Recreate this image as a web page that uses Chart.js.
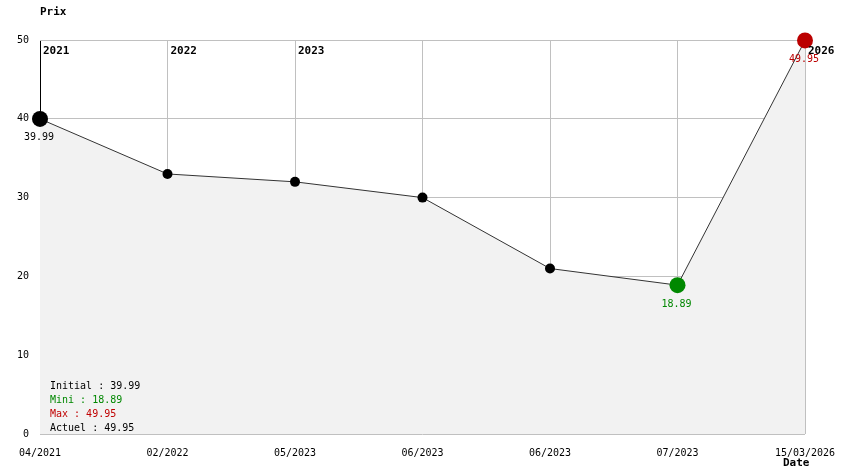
<!DOCTYPE html>
<html>
<head>
<meta charset="utf-8">
<script src="https://cdn.jsdelivr.net/npm/chart.js@4/dist/chart.umd.min.js"></script>
<style>
    html, body { margin: 0; padding: 0; background: #ffffff; }
    canvas { display: block; }
</style>
</head>
<body>
<canvas id="prixChart" width="844" height="474"></canvas>
<script>
"use strict";

var dateLabels = ['04/2021', '02/2022', '05/2023', '06/2023', '06/2023', '07/2023', '15/03/2026'];
var yearLabels = ['2021', '2022', '2023', '', '', '', '2026'];
var prices = [39.99, 33, 32, 30, 21, 18.89, 49.95];
var yTicks = [0, 10, 20, 30, 40, 50];

var statNames = ['Initial', 'Mini', 'Max', 'Actuel'];
var statColors = ['#000000', '#008800', '#c00000', '#000000'];

var minPrice = Math.min.apply(null, prices);
var maxPrice = Math.max.apply(null, prices);
var minIndex = prices.indexOf(minPrice);
var maxIndex = prices.indexOf(maxPrice);
var statValues = [prices[0], minPrice, maxPrice, prices[prices.length - 1]];

var mono = 'DejaVu Sans Mono, Liberation Mono, monospace';

function pointColor(i) {
    if (i === minIndex) return '#008800';
    if (i === maxIndex) return '#bb0000';
    return '#000000';
}
function pointSize(i) {
    if (i === 0 || i === minIndex || i === maxIndex) return 8;
    return 5;
}

// texts drawn around the chart: axis names, years, value labels, stats
var textPlugin = {
    id: 'textPlugin',
    afterDraw: function(chart) {
        var ctx = chart.ctx;
        var meta = chart.getDatasetMeta(0);
        var area = chart.chartArea;
        ctx.save();
        ctx.textBaseline = 'middle';

        ctx.font = 'bold 11px ' + mono;
        ctx.fillStyle = '#000000';
        ctx.textAlign = 'left';
        ctx.fillText('Prix', area.left, 12);
        ctx.fillText('Date', area.right - 22, 463);
        for (var i = 0; i < yearLabels.length; i++) {
            if (!yearLabels[i]) continue;
            ctx.fillText(yearLabels[i], meta.data[i].x + 3, area.top + 11);
        }

        ctx.font = '10px ' + mono;
        ctx.textAlign = 'center';
        var marked = [0, minIndex, maxIndex];
        for (var j = 0; j < marked.length; j++) {
            var k = marked[j];
            ctx.fillStyle = k === 0 ? '#000000' : pointColor(k);
            ctx.fillText(prices[k].toFixed(2), meta.data[k].x - 1, meta.data[k].y + 19);
        }

        ctx.textAlign = 'left';
        for (var s = 0; s < statNames.length; s++) {
            ctx.fillStyle = statColors[s];
            ctx.fillText(statNames[s] + ' : ' + statValues[s].toFixed(2), area.left + 10, 386 + s * 14);
        }
        ctx.restore();
    }
};

var ctx1 = document.getElementById('prixChart').getContext('2d');
var prixChart = new Chart(ctx1, {
    type: 'line',
    data: {
        labels: dateLabels,
        datasets: [{
            data: prices,
            borderColor: '#333333',
            borderWidth: 1,
            backgroundColor: '#f2f2f2',
            fill: 'origin',
            tension: 0,
            pointRadius: function(c) { return pointSize(c.dataIndex); },
            pointBackgroundColor: function(c) { return pointColor(c.dataIndex); },
            pointBorderWidth: 0,
            clip: false
        }]
    },
    options: {
        responsive: false,
        animation: false,
        layout: {
            padding: { top: 40, right: 39, left: 0, bottom: 0 }
        },
        plugins: {
            legend: { display: false },
            tooltip: { enabled: false }
        },
        scales: {
            x: {
                type: 'category',
                offset: false,
                border: { display: false },
                grid: {
                    z: -1,
                    color: function(c) { return c.index === 0 ? '#000000' : '#c0c0c0'; },
                    drawTicks: false
                },
                ticks: {
                    color: '#000000',
                    font: { family: mono, size: 10 },
                    maxRotation: 0,
                    autoSkip: false,
                    padding: 13
                },
                afterFit: function(scale) {
                    scale.height = 40;
                    scale.paddingLeft = 0;
                    scale.paddingRight = 0;
                }
            },
            y: {
                min: 0,
                max: 50,
                border: { display: false },
                grid: { z: -1, color: '#c0c0c0', drawTicks: false },
                afterBuildTicks: function(scale) {
                    scale.ticks = yTicks.map(function(v) { return { value: v }; });
                },
                ticks: {
                    color: '#000000',
                    font: { family: mono, size: 10 },
                    padding: 11
                },
                afterFit: function(scale) {
                    scale.width = 40;
                    scale.paddingTop = 0;
                    scale.paddingBottom = 0;
                }
            }
        }
    },
    plugins: [textPlugin]
});
</script>
</body>
</html>
